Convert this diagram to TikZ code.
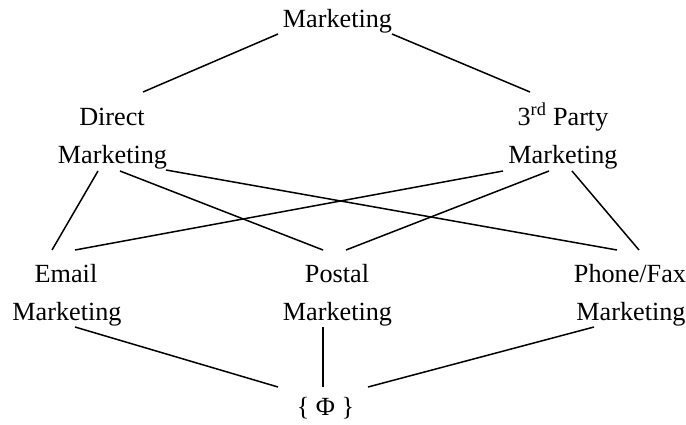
\documentclass[tikz,border=0pt]{standalone}
\usepackage{fontspec}
\setmainfont{Liberation Serif}
\begin{document}
\begin{tikzpicture}[x=1pt,y=-1pt,
  lbl/.style={anchor=base,inner sep=0pt,font=\fontsize{26.2}{30}\selectfont},
  conn/.style={line width=1.5pt}]
\useasboundingbox (0,0) rectangle (686,424);
% labels
\node[lbl] (top) at (337.5,27) {Marketing};
\node[lbl] (dir1) at (112,125) {Direct};
\node[lbl] (dir2) at (112.5,163) {Marketing};
\node[lbl] (trd1) at (563,125) {3\textsuperscript{rd} Party};
\node[lbl] (trd2) at (563,163) {Marketing};
\node[lbl] (em1) at (66,282) {Email};
\node[lbl] (em2) at (67,320) {Marketing};
\node[lbl] (po1) at (337,282) {Postal};
\node[lbl] (po2) at (337.5,320) {Marketing};
\node[lbl] (ph1) at (630,282) {Phone/Fax};
\node[lbl] (ph2) at (631,320) {Marketing};
\node[lbl] (phi) at (325.5,415) {\{ Φ \}};
% connector end points
\coordinate (topL) at (278,34);
\coordinate (topR) at (392,34);
\coordinate (dirT) at (143,92);
\coordinate (trdT) at (530,92);
\coordinate (dirA) at (98,171);
\coordinate (dirB) at (120,171);
\coordinate (dirC) at (166,170);
\coordinate (trdA) at (503,171);
\coordinate (trdB) at (549,171);
\coordinate (trdC) at (572,171);
\coordinate (emA) at (52,250);
\coordinate (emB) at (75,250);
\coordinate (poA) at (323,250);
\coordinate (poB) at (346,250);
\coordinate (phA) at (617,250);
\coordinate (phB) at (639,250);
\coordinate (emD) at (75,327);
\coordinate (poD) at (323,327);
\coordinate (phD) at (594,327);
\coordinate (phiL) at (278,387);
\coordinate (phiM) at (323,387);
\coordinate (phiR) at (368,387);
% connectors
\draw[conn] (topL) -- (dirT);
\draw[conn] (topR) -- (trdT);
\draw[conn] (dirA) -- (emA);
\draw[conn] (dirB) -- (poA);
\draw[conn] (dirC) -- (phA);
\draw[conn] (trdA) -- (emB);
\draw[conn] (trdB) -- (poB);
\draw[conn] (trdC) -- (phB);
\draw[conn] (emD) -- (phiL);
\draw[conn] (poD) -- (phiM);
\draw[conn] (phD) -- (phiR);
\end{tikzpicture}
\end{document}
